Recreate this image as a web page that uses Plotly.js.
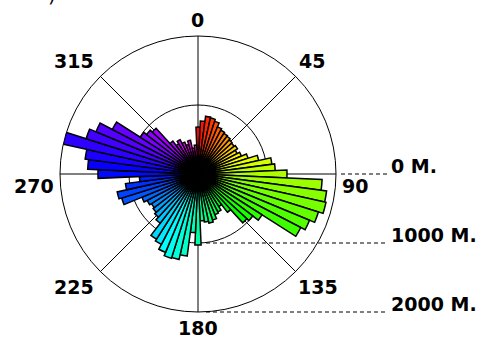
<!DOCTYPE html>
<html>
<head>
<meta charset="utf-8">
<script src="https://cdn.plot.ly/plotly-3.0.1.min.js"></script>
<style>
  html, body { margin: 0; padding: 0; background: #ffffff; }
  #chart { width: 480px; height: 339px; }
</style>
</head>
<body>
<div id="chart"></div>
<script>
// Direction of each sector (degrees, clockwise from north), 5 degree bins
const directions = [
    0,   5,  10,  15,  20,  25,  30,  35,  40,  45,  50,  55,
   60,  65,  70,  75,  80,  85,  90,  95, 100, 105, 110, 115,
  120, 125, 130, 135, 140, 145, 150, 155, 160, 165, 170, 175,
  180, 185, 190, 195, 200, 205, 210, 215, 220, 225, 230, 235,
  240, 245, 250, 255, 260, 265, 270, 275, 280, 285, 290, 295,
  300, 305, 310, 315, 320, 325, 330, 335, 340, 345, 350, 355
];

// Total length per direction sector, metres
const lengths = [
   680,  770,  845,  830,  800,  740,  715,  700,  690,  670,  660,  680,
   640,  680,  760,  900, 1080, 1120, 1290, 1800, 1880, 1900, 1830, 1750,
  1680, 1100, 1000,  960,  700,  560,  620,  640,  700,  730,  700,  680,
  1030,  850, 1200, 1270, 1280, 1230, 1150, 1120,  900,  850,  820,  800,
   830,  880, 1160, 1200, 1060,  850, 1450, 1600, 1650, 2000, 1700, 1600,
  1400,  990,  940,  900,  600,  520,  560,  500,  450,  500,  380,  420
];

// Compass tick labels and radial scale labels
const compassAngles = [0, 45, 90, 135, 180, 225, 270, 315];
const compassLabels = ['0', '45', '90', '135', '180', '225', '270', '315'];
const scaleValues = [0, 1000, 2000];
const scaleLabels = ['0 M.', '1000 M.', '2000 M.'];

const W = 480, H = 339;
const cx = 198, cy = 174, R = 138;     // polar centre and radius, px
const rMax = 2000;

const px = x => x / W;
const py = y => 1 - y / H;

// Rainbow colouring running from red (north) round to magenta
const colors = directions.map(d => `hsl(${(d * 0.88).toFixed(1)},100%,50%)`);

const trace = {
  type: 'barpolar',
  r: lengths,
  theta: directions,
  width: directions.map(() => 5),
  marker: { color: colors, line: { color: '#000000', width: 1.5 } },
  hoverinfo: 'skip'
};

const FONT = 'DejaVu Sans, Verdana, sans-serif';
const FSIZE = 19;

// Compass labels placed around the ring
const compassPos = {
  0: [197, 20], 45: [312, 61], 90: [355, 186], 135: [318, 287],
  180: [198, 328], 225: [74, 287], 270: [34, 186], 315: [74, 61]
};
const annotations = compassAngles.map((a, i) => ({
  xref: 'paper', yref: 'paper',
  x: px(compassPos[a][0]), y: py(compassPos[a][1]),
  xanchor: 'center', yanchor: 'middle',
  text: '<b>' + compassLabels[i] + '</b>',
  showarrow: false,
  font: { family: FONT, size: FSIZE, color: '#000000' }
}));

// Radial scale: dashed leaders from the rings out to the labels
const shapes = [];
scaleValues.forEach((v, i) => {
  const yPix = cy + (v / rMax) * R;
  const x0 = v === 0 ? cx + R + 5 : cx + 8;
  shapes.push({
    type: 'line', xref: 'paper', yref: 'paper',
    x0: px(x0), x1: px(388), y0: py(yPix), y1: py(yPix),
    line: { color: '#000000', width: 1, dash: '4px,3px' }
  });
  annotations.push({
    xref: 'paper', yref: 'paper',
    x: px(389), y: py(yPix - 8),
    xanchor: 'left', yanchor: 'middle',
    text: '<b>' + scaleLabels[i] + '</b>',
    showarrow: false,
    font: { family: FONT, size: FSIZE, color: '#000000' }
  });
});

// Panel marker partly cut off at the top edge
annotations.push({
  xref: 'paper', yref: 'paper',
  x: px(52), y: py(-5),
  xanchor: 'center', yanchor: 'middle',
  text: ')', showarrow: false,
  font: { family: FONT, size: 20, color: '#000000' }
});

const layout = {
  width: W, height: H,
  margin: { l: 0, r: 0, t: 0, b: 0 },
  paper_bgcolor: '#ffffff',
  showlegend: false,
  polar: {
    domain: { x: [px(cx - R), px(cx + R)], y: [py(cy + R), py(cy - R)] },
    bgcolor: '#ffffff',
    bargap: 0,
    radialaxis: {
      range: [0, rMax], tickvals: [1000], showticklabels: false, ticks: '',
      showline: false, gridcolor: '#000000', gridwidth: 1, layer: 'below traces'
    },
    angularaxis: {
      rotation: 90, direction: 'clockwise',
      tickvals: compassAngles, showticklabels: false, ticks: '',
      showline: true, linecolor: '#000000', linewidth: 1,
      gridcolor: '#000000', gridwidth: 1, layer: 'below traces'
    }
  },
  shapes: shapes,
  annotations: annotations
};

Plotly.newPlot('chart', [trace], layout, { staticPlot: true, displayModeBar: false });
</script>
</body>
</html>
